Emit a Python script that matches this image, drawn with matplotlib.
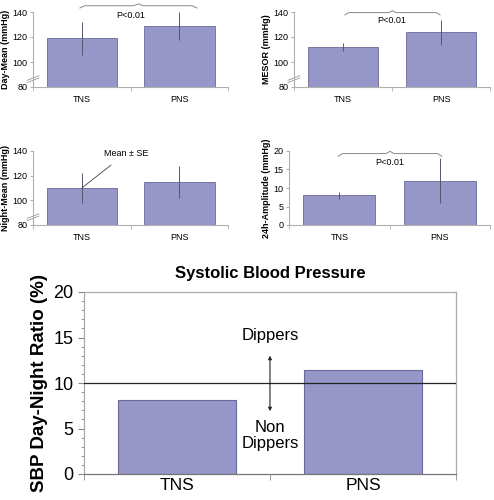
import matplotlib
matplotlib.use("Agg")
import matplotlib.pyplot as plt
import numpy as np

plt.rcParams['font.family'] = ['Liberation Sans', 'DejaVu Sans']

groups = ["TNS", "PNS"]
day_mean = [119, 129]
day_mean_se = [13, 11]
mesor = [112, 124]
mesor_se = [3, 10]
night_mean = [110, 115]
night_mean_se = [12.5, 13]
amplitude = [8, 12]
amplitude_se = [1, 6]
sbp_ratio = [8.1, 11.4]
dipper_threshold = 10

BAR = "#9696c8"
EDGE = "#6a6a9a"
ERR = "#55556e"
SPINE = "#b0b0b0"

fig = plt.figure(figsize=(4.94, 5.0), dpi=100)

def brace(ax, x0, x1, y, h, color="#888888"):
    xm = (x0 + x1) / 2
    xs = [x0, x0 + 0.04 * (x1 - x0), xm - 0.04 * (x1 - x0), xm, xm + 0.04 * (x1 - x0), x1 - 0.04 * (x1 - x0), x1]
    ys = [y - h * 0.6, y, y, y + h * 0.5, y, y, y - h * 0.6]
    ax.plot(xs, ys, color=color, lw=0.7, clip_on=False)

def small_panel(rect, vals, errs, ylabel, ylim, yticks, brk=True):
    ax = fig.add_axes(rect)
    x = np.arange(len(groups))
    ax.bar(x, [v - ylim[0] for v in vals], bottom=ylim[0], width=0.72, color=BAR,
           edgecolor=EDGE, linewidth=0.6, zorder=2)
    ax.errorbar(x, vals, yerr=errs, fmt="none", ecolor=ERR, elinewidth=0.7, capsize=0, zorder=3)
    ax.set_xlim(-0.5, 1.5)
    ax.set_ylim(*ylim)
    ax.set_yticks(yticks)
    ax.set_xticks(x)
    ax.set_xticklabels(groups, fontsize=6.5)
    ax.set_xticks([-0.5, 0.5, 1.5], minor=True)
    ax.tick_params(axis="x", which="major", length=0, pad=6)
    ax.tick_params(axis="x", which="minor", length=3, color=SPINE)
    ax.tick_params(axis="y", labelsize=6.5, length=2, color=SPINE, pad=2)
    for s in ["top", "right"]:
        ax.spines[s].set_visible(False)
    for s in ["left", "bottom"]:
        ax.spines[s].set_color(SPINE)
        ax.spines[s].set_linewidth(0.8)
    ax.set_ylabel(ylabel, fontsize=6.5, fontweight="bold", labelpad=2)
    if brk:
        rng = ylim[1] - ylim[0]
        yb = ylim[0] + 0.12 * rng
        ax.plot([-0.56, -0.44], [yb - 0.03 * rng, yb + 0.03 * rng], color="#999999", lw=0.6, clip_on=False)
        ax.plot([-0.56, -0.44], [yb - 0.06 * rng, yb], color="#999999", lw=0.6, clip_on=False)
    return ax

ax1 = small_panel([0.067, 0.826, 0.395, 0.150], day_mean, day_mean_se, "Day-Mean (mmHg)",
                  (80, 140), [80, 100, 120, 140])
brace(ax1, -0.02, 1.18, 145, 3)
ax1.text(0.5, 137, "P<0.01", fontsize=6.5, ha="center", va="center")

ax2 = small_panel([0.595, 0.826, 0.397, 0.150], mesor, mesor_se, "MESOR (mmHg)",
                  (80, 140), [80, 100, 120, 140])
brace(ax2, 0.02, 0.99, 139.5, 3)
ax2.text(0.5, 133.5, "P<0.01", fontsize=6.5, ha="center", va="center")

ax3 = small_panel([0.067, 0.550, 0.395, 0.148], night_mean, night_mean_se, "Night-Mean (mmHg)",
                  (80, 140), [80, 100, 120, 140])
ax3.annotate("Mean ± SE", xy=(0, night_mean[0]), xytext=(0.45, 138), fontsize=6.5,
             ha="center", va="center",
             arrowprops=dict(arrowstyle="-", color="#444444", lw=0.6, shrinkA=5, shrinkB=0))

ax4 = small_panel([0.585, 0.550, 0.407, 0.148], amplitude, amplitude_se, "24h-Amplitude (mmHg)",
                  (0, 20), [0, 5, 10, 15, 20], brk=False)
brace(ax4, -0.01, 1.02, 19.3, 1.2)
ax4.text(0.5, 16.8, "P<0.01", fontsize=6.5, ha="center", va="center")

# main chart
ax = fig.add_axes([0.170, 0.052, 0.753, 0.364])
x = np.arange(len(groups))
ax.bar(x, sbp_ratio, width=0.63, color=BAR, edgecolor=EDGE, linewidth=0.8, zorder=2)
ax.axhline(dipper_threshold, color="#222222", lw=0.9, zorder=3)
ax.set_xlim(-0.5, 1.5)
ax.set_ylim(0, 20)
ax.set_yticks([0, 5, 10, 15, 20])
ax.set_yticks(np.arange(0, 21, 1), minor=True)
ax.set_xticks(x)
ax.set_xticklabels(groups, fontsize=12.5)
ax.set_xticks([-0.5, 0.5, 1.5], minor=True)
ax.tick_params(axis="x", which="major", length=0, pad=3)
ax.tick_params(axis="x", which="minor", length=4, color="#888888")
ax.tick_params(axis="y", which="major", labelsize=13, length=4, color="#888888")
ax.tick_params(axis="y", which="minor", length=2, color="#888888")
for s in ax.spines.values():
    s.set_color("#aaaaaa")
    s.set_linewidth(0.9)
ax.spines["bottom"].set_color("#777777")
ax.set_ylabel("SBP Day-Night Ratio (%)", fontsize=13.5, fontweight="bold", labelpad=4)
ax.set_title("Systolic Blood Pressure", fontsize=12, fontweight="bold", pad=10)
ax.annotate("", xy=(0.5, 13.0), xytext=(0.5, 6.9),
            arrowprops=dict(arrowstyle="<|-|>", color="#222222", lw=0.8, mutation_scale=5,
                            shrinkA=0, shrinkB=0))
ax.text(0.5, 15.2, "Dippers", fontsize=12, ha="center", va="center")
ax.text(0.5, 4.2, "Non\nDippers", fontsize=12, ha="center", va="center", linespacing=1.1)

fig.savefig("out.png", dpi=100)
